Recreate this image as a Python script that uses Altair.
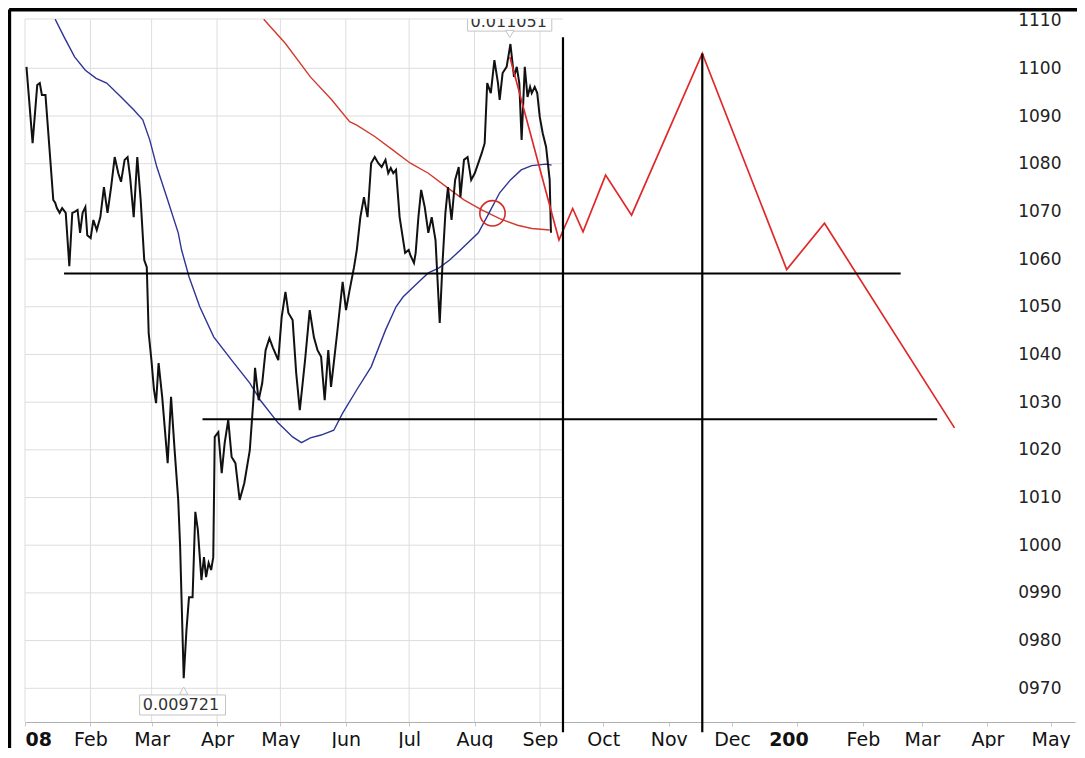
import altair as alt
import pandas as pd
from datetime import datetime, timezone

UTC = timezone.utc
T0 = datetime(2008, 1, 1, tzinfo=UTC).timestamp() * 1000
DAY = 86400000.0

def ms(d):
    return T0 + d * DAY

# ---------------- data (days since 2008-01-01, value x 1e5) ----------------
price_day = [
    0.7, 3.6, 5.8, 7.0, 8.0, 9.7, 13.4, 14.3, 15.1, 16.4,
    17.6, 19.3, 21.0, 22.4, 23.5, 24.9, 26.1, 27.3, 28.6, 29.5,
    31.1, 32.4, 34.0, 35.7, 37.4, 39.1, 40.8, 42.5, 44.2, 45.5,
    47.2, 48.6, 49.8, 51.5, 53.2, 54.8, 56.5, 57.7, 58.6, 59.9,
    61.1, 62.1, 63.3, 65.0, 67.6, 69.2, 70.9, 72.6, 73.5, 75.2,
    76.5, 77.7, 79.4, 80.7, 81.9, 83.6, 84.8, 85.8, 87.0, 88.2,
    89.2, 89.9, 91.6, 93.2, 94.6, 96.3, 97.9, 99.7, 101.7, 103.9,
    106.5, 108.2, 109.0, 110.7, 112.4, 114.0, 115.8, 117.4, 120.0, 121.6,
    123.4, 124.8, 126.8, 128.5, 130.2, 132.7, 134.9, 136.9, 138.6, 140.3,
    142.0, 143.7, 145.0, 146.3, 147.9, 150.5, 152.1, 153.8, 155.9, 157.2,
    158.9, 160.6, 162.3, 164.0, 165.7, 167.4, 169.0, 170.8, 172.1, 173.3,
    174.5, 175.8, 177.5, 180.1, 181.8, 182.6, 184.3, 185.1, 186.4, 187.7,
    189.4, 191.1, 192.7, 194.5, 195.3, 196.5, 197.9, 199.2, 200.4, 202.1,
    203.8, 205.5, 206.3, 208.0, 209.7, 211.4, 213.1, 216.4, 217.8, 219.0,
    220.7, 222.4, 224.1, 224.9, 226.3, 228.2, 230.0, 231.7, 233.0, 234.2,
    235.3, 236.8, 238.1, 239.3, 240.1, 241.5, 242.7, 243.9, 245.3, 246.9,
    248.6, 249.2,
]
price_val = [
    1100.3, 1084.3, 1096.5, 1096.9, 1094.4, 1094.4, 1072.4, 1071.8, 1070.7, 1069.7,
    1070.7, 1069.7, 1058.5, 1069.7, 1069.9, 1070.3, 1065.5, 1069.7, 1070.9, 1065.0,
    1064.4, 1068.2, 1066.1, 1068.8, 1075.1, 1069.7, 1075.1, 1081.4, 1078.0, 1076.2,
    1080.8, 1081.4, 1077.2, 1068.8, 1081.4, 1072.4, 1059.8, 1058.3, 1044.5, 1038.8,
    1032.6, 1029.8, 1038.2, 1031.1, 1017.2, 1031.1, 1019.9, 1009.5, 999.7, 972.1,
    982.2, 989.1, 989.1, 1007.0, 1003.2, 992.7, 997.5, 993.3, 996.3, 994.8,
    997.5, 1022.7, 1023.7, 1015.1, 1021.4, 1026.3, 1018.5, 1017.2, 1009.5, 1013.0,
    1019.9, 1030.4, 1037.2, 1030.4, 1034.0, 1040.9, 1043.4, 1041.5, 1038.8, 1047.8,
    1053.1, 1048.7, 1047.2, 1036.1, 1028.3, 1038.8, 1049.3, 1043.6, 1040.9, 1039.5,
    1030.4, 1040.9, 1033.2, 1038.2, 1044.5, 1055.2, 1049.3, 1053.5, 1058.3, 1061.9,
    1068.8, 1073.0, 1068.8, 1080.1, 1081.4, 1080.1, 1079.3, 1080.8, 1078.0, 1079.1,
    1078.0, 1078.7, 1068.8, 1061.3, 1061.9, 1060.8, 1059.2, 1061.3, 1068.8, 1074.5,
    1070.9, 1065.5, 1068.8, 1064.0, 1057.1, 1046.6, 1059.8, 1069.7, 1075.1, 1068.2,
    1076.6, 1079.3, 1073.0, 1080.8, 1081.4, 1076.6, 1078.0, 1082.2, 1084.3, 1096.9,
    1094.8, 1101.7, 1096.9, 1093.4, 1099.0, 1100.3, 1105.1, 1098.2, 1100.3, 1096.9,
    1085.0, 1100.3, 1094.0, 1096.1, 1094.8, 1096.1, 1094.8, 1089.8, 1086.4, 1083.5,
    1076.6, 1065.5,
]

ma_short_day = [14.3, 18.5, 23.5, 28.6, 33.7, 38.7, 45.5, 51.5, 55.8, 59.1,
                62.4, 67.6, 72.6, 74.2, 77.7, 82.8, 89.4, 97.9, 106.5, 111.5,
                120.0, 126.8, 131.0, 135.2, 140.3, 146.3, 150.5, 157.2, 164.0, 170.8,
                175.8, 179.2, 186.0, 191.1, 196.0, 201.2, 206.3, 214.8, 219.9, 224.9,
                230.0, 235.1, 240.1, 246.9, 249.5]
ma_short_val = [1110.3, 1106.6, 1102.4, 1099.6, 1097.9, 1096.9, 1094.0, 1091.3, 1089.2, 1085.0,
                1079.4, 1072.4, 1065.5, 1061.9, 1056.3, 1050.0, 1043.7, 1038.8, 1034.0, 1030.4,
                1025.6, 1022.7, 1021.5, 1022.5, 1023.1, 1024.1, 1027.7, 1032.6, 1037.4, 1045.1,
                1050.0, 1052.1, 1055.0, 1057.1, 1058.1, 1059.8, 1061.9, 1065.5, 1069.7, 1073.9,
                1076.6, 1078.7, 1079.6, 1079.9, 1079.7]

ma_long_day = [113.1, 123.4, 135.2, 145.3, 153.8, 157.2, 165.7, 174.2, 182.6, 191.1,
               199.5, 208.0, 216.4, 224.9, 233.4, 240.1, 248.6]
ma_long_val = [1110.3, 1105.2, 1098.2, 1093.4, 1088.8, 1088.1, 1085.7, 1082.9, 1080.1, 1078.0,
               1075.2, 1072.4, 1070.3, 1068.5, 1067.1, 1066.4, 1066.1]

forecast_day = [229.7, 253.0, 259.5, 264.4, 275.1, 287.4, 320.9, 360.9, 378.8, 440.4]
forecast_val = [1102.4, 1064.0, 1070.6, 1065.7, 1077.6, 1069.2, 1103.1, 1057.8, 1067.5, 1024.6]

level_val = [1057.0, 1026.4]
level_start_day = [18.5, 84.1]
level_end_day = [414.9, 432.2]

marker_day = [254.9, 320.9]
marker_top = [1106.5, 1103.1]
marker_bottom = 960.8

cross_day = [221.5]
cross_val = [1069.6]

extreme_text = ["0.011051", "0.009721"]
extreme_text_day = [229.2, 73.9]
extreme_text_val = [1109.8, 966.4]
extreme_box_day0 = [209.7, 54.3]
extreme_box_day1 = [249.6, 95.0]
extreme_box_val0 = [1112.5, 968.6]
extreme_box_val1 = [1107.8, 964.4]
pointer_day = [229.7, 75.2]
pointer_val = [1107.2, 969.5]
pointer_shape = ["triangle-down", "triangle-up"]

y_ticks = [970, 980, 990, 1000, 1010, 1020, 1030, 1040, 1050, 1060, 1070, 1080, 1090, 1100, 1110]
y_tick_labels = ["0970", "0980", "0990", "1000", "1010", "1020", "1030", "1040",
                 "1050", "1060", "1070", "1080", "1090", "1100", "1110"]
month_starts = [(2008, m) for m in range(1, 13)] + [(2009, m) for m in range(1, 6)]
month_labels = ["08", "Feb", "Mar", "Apr", "May", "Jun", "Jul", "Aug", "Sep", "Oct",
                "Nov", "Dec", "200", "Feb", "Mar", "Apr", "May"]

grid_months = [(2008, m) for m in range(1, 10)]
grid_end_day = 254.9

X_END_DAY = 497.5
Y_MIN, Y_MAX = 962.93, 1110.34
FRAME_TOP = 1112.33
FRAME_LEFT_DAY = -7.5
FRAME_BOTTOM = 955.4

# ---------------- tables ----------------
def mdate(y, m):
    return datetime(y, m, 1, tzinfo=UTC).timestamp() * 1000

price_df = pd.DataFrame({"t": [ms(d) for d in price_day], "v": price_val, "i": range(len(price_day))})
mas_df = pd.DataFrame({"t": [ms(d) for d in ma_short_day], "v": ma_short_val, "i": range(len(ma_short_day))})
mal_df = pd.DataFrame({"t": [ms(d) for d in ma_long_day], "v": ma_long_val, "i": range(len(ma_long_day))})
fc_df = pd.DataFrame({"t": [ms(d) for d in forecast_day], "v": forecast_val, "i": range(len(forecast_day))})
lvl_df = pd.DataFrame({"t0": [ms(d) for d in level_start_day], "t1": [ms(d) for d in level_end_day], "v": level_val})
mk_df = pd.DataFrame({"t": [ms(d) for d in marker_day], "v0": [marker_bottom] * 2, "v1": marker_top})
cross_df = pd.DataFrame({"t": [ms(d) for d in cross_day], "v": cross_val})
txt_df = pd.DataFrame({"t": [ms(d) for d in extreme_text_day], "v": extreme_text_val, "s": extreme_text})
box_df = pd.DataFrame({"t0": [ms(d) for d in extreme_box_day0], "t1": [ms(d) for d in extreme_box_day1],
                       "v0": extreme_box_val0, "v1": extreme_box_val1})
ptr_df = pd.DataFrame({"t": [ms(d) for d in pointer_day], "v": pointer_val, "shape": pointer_shape})

gh_vals = [v for v in y_ticks if v < 1110] + [Y_MAX]
gh_df = pd.DataFrame({"v": gh_vals, "t0": [T0] * len(gh_vals), "t1": [ms(grid_end_day)] * len(gh_vals)})
gv_df = pd.DataFrame({"t": [mdate(y, m) for y, m in grid_months], "v0": Y_MIN, "v1": Y_MAX})

frame_df = pd.DataFrame({
    "t0": [ms(FRAME_LEFT_DAY), ms(FRAME_LEFT_DAY)],
    "t1": [ms(X_END_DAY + 1.0), ms(FRAME_LEFT_DAY)],
    "v0": [FRAME_TOP, FRAME_TOP],
    "v1": [FRAME_TOP, FRAME_BOTTOM],
})

tick_vals = [mdate(y, m) for y, m in month_starts]

# ---------------- scales & axes ----------------
xs = alt.Scale(type="utc", domain=[T0, ms(X_END_DAY)])
ys = alt.Scale(domain=[Y_MIN, Y_MAX], zero=False, nice=False)

lab_arr = "[" + ",".join("'%s'" % s for s in month_labels) + "]"
x_label_expr = lab_arr + "[(utcyear(datum.value)-2008)*12+utcmonth(datum.value)]"
jan_test = "utcmonth(datum.value) == 0"
first_test = "utcmonth(datum.value) == 0 && utcyear(datum.value) == 2008"
second_jan_test = "utcmonth(datum.value) == 0 && utcyear(datum.value) == 2009"

x_axis = alt.Axis(
    values=tick_vals, labelExpr=x_label_expr, title=None, grid=False,
    labelFont="DejaVu Sans", labelFontSize=19, labelColor="#111",
    labelFontWeight={"condition": {"test": jan_test, "value": "bold"}, "value": "normal"},
    labelAlign={"condition": {"test": first_test, "value": "left"}, "value": "center"},
    labelOffset={"condition": {"test": second_jan_test, "value": -9}, "value": 0},
    labelBaseline="top", labelPadding=4, labelOverlap=False, labelFlush=False,
    tickColor="#c8c8c8", tickSize=4, domainColor="#b0b0b0", domainWidth=1,
)
y_label_expr = "[" + ",".join("'%s'" % s for s in y_tick_labels) + "][round((datum.value-970)/10)]"
y_axis = alt.Axis(
    orient="right", values=y_ticks, labelExpr=y_label_expr, title=None, grid=False,
    offset=-14, labelAlign="right", labelBaseline="middle", labelPadding=0,
    ticks=False, tickSize=0, domain=False, labelFlush=False, labelOverlap=False,
    labelFont="DejaVu Sans", labelFontSize=17, labelColor="#222",
)

def X(f):
    return alt.X(f, type="temporal", scale=xs, axis=x_axis)

def Y(f):
    return alt.Y(f, type="quantitative", scale=ys, axis=y_axis)

# ---------------- layers ----------------
grid_h = alt.Chart(gh_df).mark_rule(color="#dddddd", strokeWidth=1).encode(
    x=X("t0"), x2="t1", y=Y("v"))
grid_v = alt.Chart(gv_df).mark_rule(color="#dddddd", strokeWidth=1).encode(
    x=X("t"), y=Y("v0"), y2="v1")

boxes = alt.Chart(box_df).mark_rect(fill="white", stroke="#c4c4c4", strokeWidth=1, clip=True).encode(
    x=X("t0"), x2="t1", y=Y("v0"), y2="v1")
ptrs = alt.Chart(ptr_df).mark_point(filled=True, fill="white", stroke="#c4c4c4", strokeWidth=1,
                                    size=70, opacity=1).encode(
    x=X("t"), y=Y("v"), shape=alt.Shape("shape:N", scale=None, legend=None))
texts = alt.Chart(txt_df).mark_text(font="DejaVu Sans", fontSize=16, color="#333",
                                    baseline="middle", clip=True).encode(
    x=X("t"), y=Y("v"), text="s:N")

ma_long = alt.Chart(mal_df).mark_line(color="#d23a2e", strokeWidth=1.4, clip=True).encode(
    x=X("t"), y=Y("v"), order="i:Q")
ma_short = alt.Chart(mas_df).mark_line(color="#2e3594", strokeWidth=1.4, clip=True).encode(
    x=X("t"), y=Y("v"), order="i:Q")
price = alt.Chart(price_df).mark_line(color="#111111", strokeWidth=2, clip=True).encode(
    x=X("t"), y=Y("v"), order="i:Q")
forecast = alt.Chart(fc_df).mark_line(color="#e0282a", strokeWidth=1.7).encode(
    x=X("t"), y=Y("v"), order="i:Q")

levels = alt.Chart(lvl_df).mark_rule(color="#000000", strokeWidth=2).encode(
    x=X("t0"), x2="t1", y=Y("v"))
markers = alt.Chart(mk_df).mark_rule(color="#000000", strokeWidth=2.2).encode(
    x=X("t"), y=Y("v0"), y2="v1")
cross = alt.Chart(cross_df).mark_point(shape="circle", filled=False, color="#d62a2a",
                                       strokeWidth=1.6, size=640, opacity=1).encode(
    x=X("t"), y=Y("v"))
frame = alt.Chart(frame_df).mark_rule(color="#000000", strokeWidth=4).encode(
    x=X("t0"), x2="t1", y=Y("v0"), y2="v1")

chart = alt.layer(
    grid_h, grid_v, boxes, ptrs, texts, ma_long, ma_short, price, forecast,
    levels, markers, cross, frame,
).properties(
    width=1050, height=703,
    padding={"left": 17, "top": 11, "right": 2, "bottom": 26},
    autosize=alt.AutoSizeParams(type="none"),
    background="white",
).configure_view(stroke=None)

chart.save("out.html", embed_options={"renderer": "svg", "actions": False})
